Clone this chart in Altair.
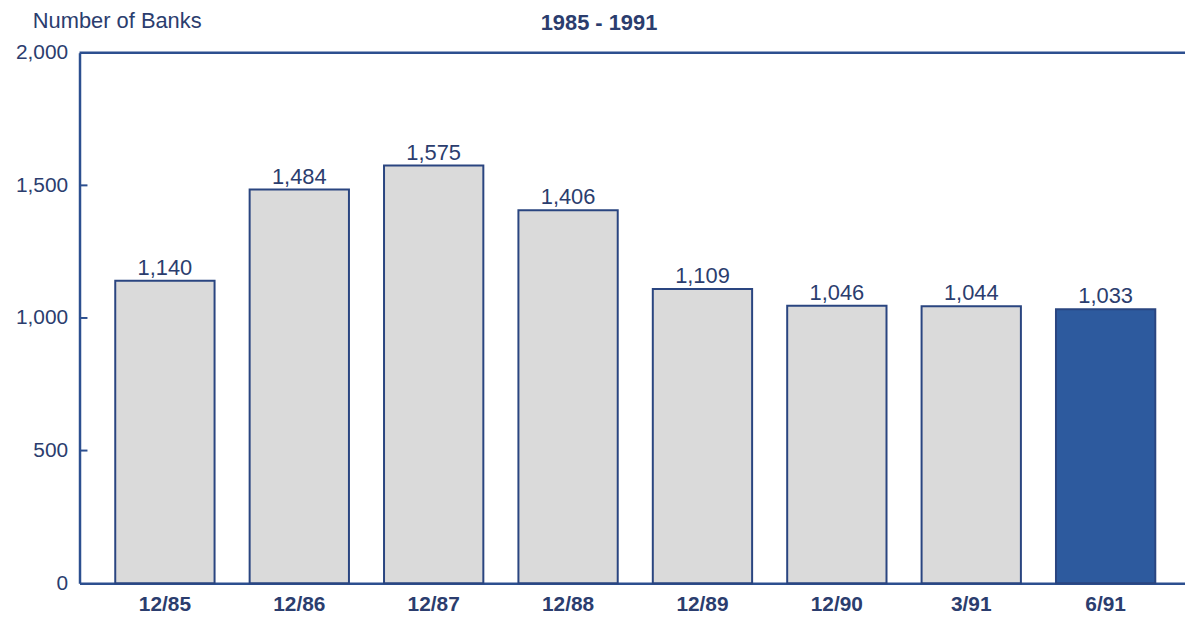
import altair as alt
import pandas as pd

periods = ["12/85", "12/86", "12/87", "12/88", "12/89", "12/90", "3/91", "6/91"]
banks = [1140, 1484, 1575, 1406, 1109, 1046, 1044, 1033]
labels = ["1,140", "1,484", "1,575", "1,406", "1,109", "1,046", "1,044", "1,033"]
highlight = [False, False, False, False, False, False, False, True]
y_ticks = [0, 500, 1000, 1500, 2000]
inner_ticks = [500, 1000, 1500]
title_text = "1985 - 1991"
y_title = "Number of Banks"

NAVY = "#2b3d6e"
AXIS = "#2c4f8f"
W, H = 1113, 534

df = pd.DataFrame({"period": periods, "banks": banks, "label": labels, "hl": highlight})
tick_df = pd.DataFrame({"v": inner_ticks})

xscale = alt.Scale(domain=periods, paddingInner=0.261, paddingOuter=0.2435, align=0.546)
yscale = alt.Scale(domain=[0, 2000], nice=False)

x = alt.X("period:N", scale=xscale, sort=periods,
          axis=alt.Axis(title=None, labelAngle=0, ticks=False, domainColor=AXIS, domainWidth=2.5,
                        labelFont="Liberation Sans", labelFontSize=21, labelFontWeight="bold",
                        labelColor=NAVY, labelPadding=11, labelBaseline="top"))
y = alt.Y("banks:Q", scale=yscale,
          axis=alt.Axis(title=None, values=y_ticks, format=",d", ticks=False, grid=False,
                        domainColor=AXIS, domainWidth=2.5, labelFont="Liberation Sans",
                        labelFontSize=21, labelColor=NAVY, labelPadding=12))

bars = alt.Chart(df).mark_bar(stroke="#2a4580", strokeWidth=2).encode(
    x=x, y=y,
    color=alt.Color("hl:N", scale=alt.Scale(domain=[False, True], range=["#dadada", "#2d5a9e"]), legend=None),
)

text = alt.Chart(df).mark_text(baseline="alphabetic", dy=-6, font="Liberation Sans",
                               fontSize=22, color=NAVY).encode(
    x=alt.X("period:N", scale=xscale, sort=periods),
    y=alt.Y("banks:Q", scale=yscale),
    text="label:N",
)

top_rule = alt.Chart(pd.DataFrame({"v": [2000]})).mark_rule(color=AXIS, strokeWidth=2.5).encode(
    y=alt.Y("v:Q", scale=yscale), x=alt.value(0), x2=alt.value(W)
)

ticks = alt.Chart(tick_df).mark_rule(color=AXIS, strokeWidth=2).encode(
    y=alt.Y("v:Q", scale=yscale), x=alt.value(0), x2=alt.value(8)
)

title = alt.Chart(pd.DataFrame({"t": [title_text]})).mark_text(
    font="Liberation Sans", fontSize=22, fontWeight="bold", color=NAVY,
    align="center", baseline="alphabetic"
).encode(text="t:N", x=alt.value(523), y=alt.value(-23))

ytitle = alt.Chart(pd.DataFrame({"t": [y_title]})).mark_text(
    font="Liberation Sans", fontSize=22, color=NAVY, align="left", baseline="alphabetic"
).encode(text="t:N", x=alt.value(-47), y=alt.value(-25))

chart = alt.layer(bars, text, top_rule, ticks, title, ytitle).properties(
    width=W, height=H,
    autosize=alt.AutoSizeParams(type="none"),
    padding={"left": 72, "top": 43, "right": 0, "bottom": 32},
).configure_view(stroke=None).configure(background="white")

chart.save("out.html", embed_options={"renderer": "svg", "actions": False})
